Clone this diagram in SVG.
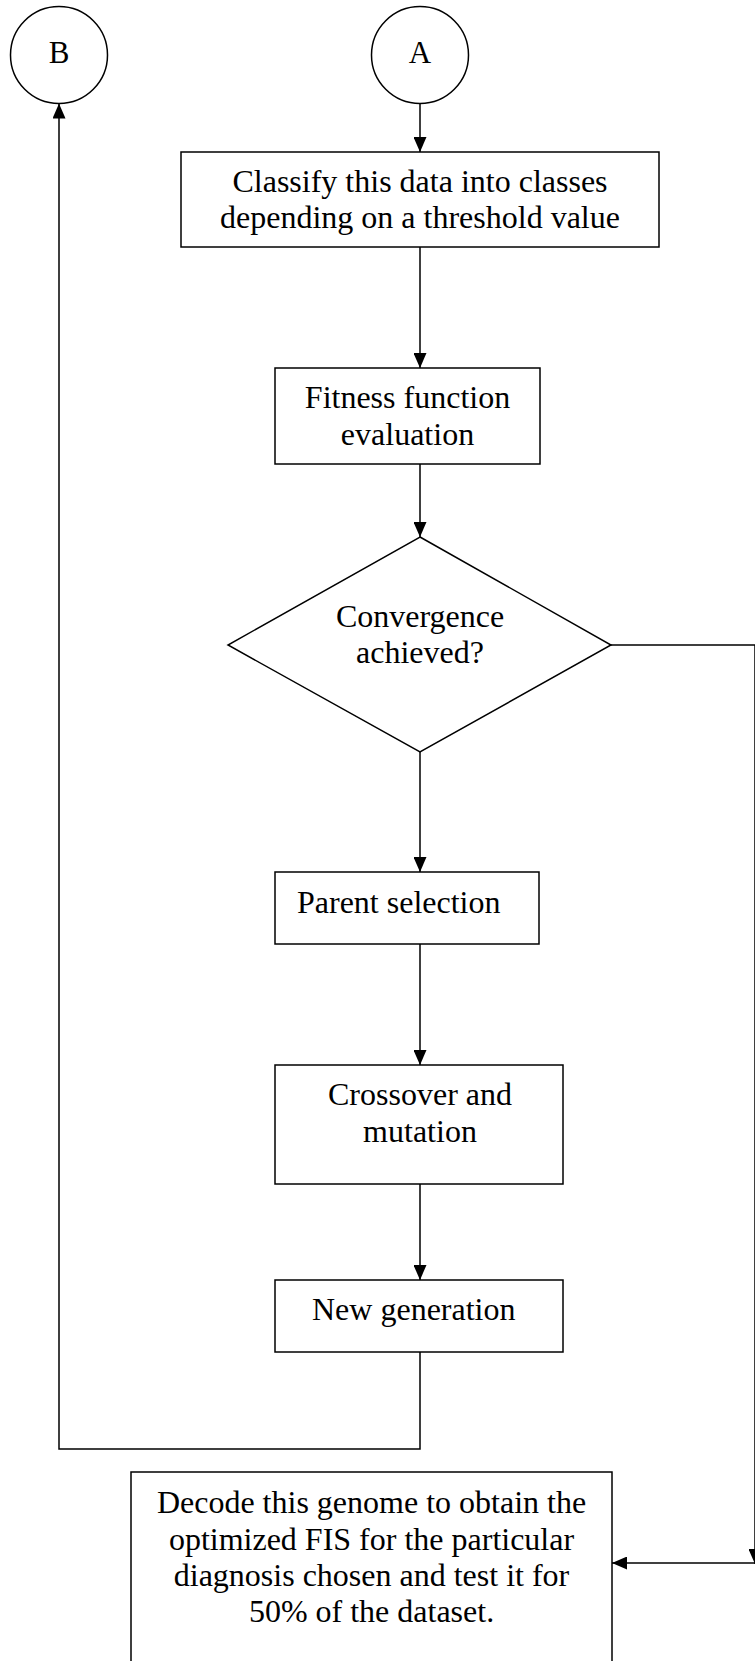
<svg xmlns="http://www.w3.org/2000/svg" width="755" height="1661" viewBox="0 0 755 1661">
  <style>
    .shape { fill: #ffffff; stroke: #000000; stroke-width: 1.5; }
    .wire { fill: none; stroke: #000000; stroke-width: 1.5; }
    .label { font-family: "Liberation Serif", "Times New Roman", serif; font-size: 32px; fill: #000000; }
    .mid { text-anchor: middle; }
    .conn { font-family: "Liberation Serif", "Times New Roman", serif; font-size: 31px; fill: #000000; text-anchor: middle; }
  </style>
  <defs>
    <marker id="arrow" viewBox="0 0 15 13" refX="15" refY="6.5" markerWidth="15" markerHeight="13" markerUnits="userSpaceOnUse" orient="auto">
      <path d="M0,0 L15,6.5 L0,13 Z" fill="#000000"/>
    </marker>
  </defs>

  <rect width="755" height="1661" fill="#ffffff"/>

  <!-- connectors -->
  <g id="connectors">
    <line class="wire" x1="420" y1="103.5" x2="420" y2="152" marker-end="url(#arrow)"/>
    <line class="wire" x1="420" y1="247" x2="420" y2="368" marker-end="url(#arrow)"/>
    <line class="wire" x1="420" y1="464" x2="420" y2="537" marker-end="url(#arrow)"/>
    <line class="wire" x1="420" y1="752" x2="420" y2="872" marker-end="url(#arrow)"/>
    <line class="wire" x1="420" y1="944" x2="420" y2="1065" marker-end="url(#arrow)"/>
    <line class="wire" x1="420" y1="1184" x2="420" y2="1280" marker-end="url(#arrow)"/>
    <!-- loop back from new generation to connector B -->
    <polyline class="wire" points="420,1352 420,1449 59,1449 59,103.5" marker-end="url(#arrow)"/>
    <!-- converged branch to the decode step -->
    <polyline class="wire" points="611,645 755,645 755,1564" marker-end="url(#arrow)"/>
    <line class="wire" x1="755" y1="1563" x2="612" y2="1563" marker-end="url(#arrow)"/>
  </g>

  <g id="node-b">
    <circle class="shape" cx="59" cy="55" r="48.5"/>
    <text class="conn" x="59" y="63">B</text>
  </g>

  <g id="node-a">
    <circle class="shape" cx="420" cy="55" r="48.5"/>
    <text class="conn" x="420" y="63">A</text>
  </g>

  <g id="node-classify">
    <rect class="shape" x="181" y="152" width="478" height="95"/>
    <text class="label mid" x="420" y="192">Classify this data into classes</text>
    <text class="label mid" x="420" y="228">depending on a threshold value</text>
  </g>

  <g id="node-fitness">
    <rect class="shape" x="275" y="368" width="265" height="96"/>
    <text class="label mid" x="407.5" y="408">Fitness function</text>
    <text class="label mid" x="407.5" y="445">evaluation</text>
  </g>

  <g id="node-convergence">
    <polygon class="shape" points="420,537 611,645 420,752 228,645"/>
    <text class="label mid" x="420" y="627">Convergence</text>
    <text class="label mid" x="420" y="663">achieved?</text>
  </g>

  <g id="node-parent">
    <rect class="shape" x="275" y="872" width="264" height="72"/>
    <text class="label" x="297" y="913">Parent selection</text>
  </g>

  <g id="node-crossover">
    <rect class="shape" x="275" y="1065" width="288" height="119"/>
    <text class="label mid" x="420" y="1105">Crossover and</text>
    <text class="label mid" x="420" y="1142">mutation</text>
  </g>

  <g id="node-newgen">
    <rect class="shape" x="275" y="1280" width="288" height="72"/>
    <text class="label" x="312" y="1320">New generation</text>
  </g>

  <g id="node-decode">
    <rect class="shape" x="131" y="1472" width="481" height="200"/>
    <text class="label mid" x="371.5" y="1513">Decode this genome to obtain the</text>
    <text class="label mid" x="371.5" y="1550">optimized FIS for the particular</text>
    <text class="label mid" x="371.5" y="1586">diagnosis chosen and test it for</text>
    <text class="label mid" x="371.5" y="1622">50% of the dataset.</text>
  </g>
</svg>
